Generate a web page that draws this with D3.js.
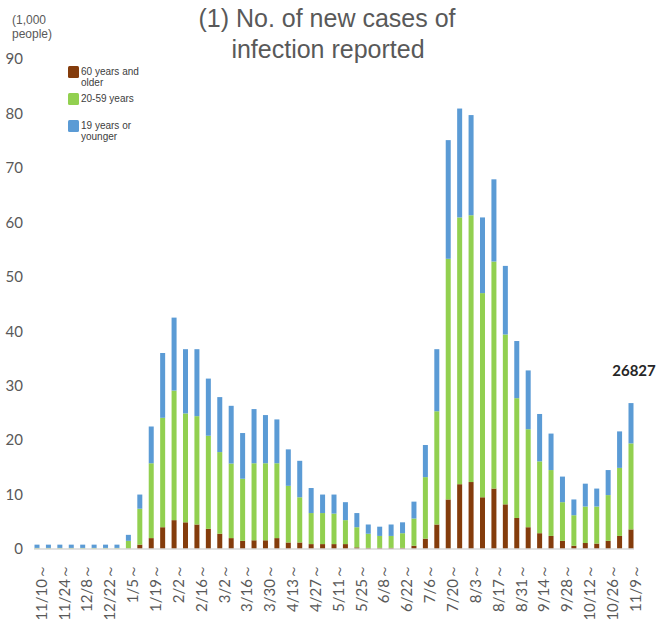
<!DOCTYPE html>
<html lang="en">
<head>
<meta charset="utf-8">
<title>No. of new cases of infection reported</title>
<script src="https://cdnjs.cloudflare.com/ajax/libs/d3/7.8.5/d3.min.js"></script>
<style>
  body { margin: 0; background: #fff; }
  svg { display: block; }
</style>
</head>
<body>
<div id="chart"></div>
<script>
// week start dates (categories)
const weeks = ["11/10","11/17","11/24","12/1","12/8","12/15","12/22","12/29",
  "1/5","1/12","1/19","1/26","2/2","2/9","2/16","2/23","3/2","3/9","3/16","3/23",
  "3/30","4/6","4/13","4/20","4/27","5/4","5/11","5/18","5/25","6/1","6/8","6/15",
  "6/22","6/29","7/6","7/13","7/20","7/27","8/3","8/10","8/17","8/24","8/31","9/7",
  "9/14","9/21","9/28","10/5","10/12","10/19","10/26","11/2","11/9"];

// thousands of people, per age group
const older = [0.05,0.05,0.05,0.05,0.05,0.05,0.05,0.05,
  0.1,0.8,2.0,4.0,5.3,4.9,4.5,3.7,2.8,2.0,1.5,1.6,
  1.6,2.0,1.2,1.2,0.9,0.9,0.9,0.9,0.3,0.2,0.2,0.2,
  0.2,0.6,1.9,4.5,9.1,11.9,12.3,9.5,11.1,8.2,5.7,4.0,
  2.9,2.4,1.5,0.6,1.1,1.0,1.5,2.4,3.6];
const middle = [0.15,0.15,0.15,0.15,0.15,0.15,0.15,0.15,
  1.4,6.6,13.75,20.1,23.8,20.0,19.9,17.1,15.0,13.7,11.4,14.15,
  14.15,13.75,10.4,8.3,5.7,5.7,5.6,4.4,3.7,2.6,2.2,2.2,
  2.7,5.0,11.3,20.8,44.2,49.0,49.0,37.5,41.7,31.2,22.0,18.0,
  13.2,12.1,7.1,5.6,6.7,6.8,8.4,12.5,15.8];
const young = [0.6,0.6,0.6,0.6,0.6,0.6,0.6,0.6,
  1.1,2.6,6.75,11.9,13.4,11.8,12.3,10.5,10.1,10.6,8.4,9.95,
  8.85,8.05,6.7,6.7,4.6,3.4,3.5,3.3,2.6,1.7,1.7,2.1,
  2.0,3.1,5.9,11.4,21.8,20.0,18.4,13.9,15.1,12.6,10.5,10.8,
  8.7,6.7,4.7,2.9,4.2,3.3,4.6,6.7,7.4];

const groups = ["older", "middle", "young"];
const groupNames = [["60 years and", "older"], ["20-59 years"], ["19 years or", "younger"]];
const colours = ["#843c0c", "#92d050", "#5b9bd5"];
const yTicks = [0,10,20,30,40,50,60,70,80,90];
const lastTotal = 26827;

const w = 658, h = 627;
const rows = weeks.map((wk, i) => ({week: wk, older: older[i], middle: middle[i], young: young[i]}));

const svg = d3.select("#chart").append("svg")
  .attr("width", w).attr("height", h);

const x = d3.scalePoint().domain(weeks).range([37, 631]);
const y = d3.scaleLinear().domain([0, 90]).range([549, 59]);
const barW = 5;

// bars
const stacked = d3.stack().keys(groups)(rows);
svg.append("g").selectAll("g")
  .data(stacked)
  .enter().append("g")
  .attr("fill", (d, i) => colours[i])
  .selectAll("rect")
  .data(d => d)
  .enter().append("rect")
  .attr("x", d => x(d.data.week) - barW / 2)
  .attr("y", d => y(d[1]))
  .attr("width", barW)
  .attr("height", d => Math.max(0, y(d[0]) - y(d[1])));

// baseline
svg.append("line")
  .attr("x1", x(weeks[0]) - 3).attr("x2", x(weeks[weeks.length - 1]) + 3)
  .attr("y1", y(0)).attr("y2", y(0))
  .attr("stroke", "#d9d9d9").attr("stroke-width", 1.5);

// y axis
const yAxis = svg.append("g")
  .attr("transform", "translate(23,0)")
  .call(d3.axisLeft(y).tickValues(yTicks).tickSize(0).tickPadding(0));
yAxis.select(".domain").remove();
yAxis.selectAll("text")
  .attr("font-family", "Lato, 'Open Sans', sans-serif")
  .attr("font-size", 15)
  .attr("fill", "#595959");

// x axis
const xAxis = svg.append("g")
  .attr("transform", "translate(0," + y(0) + ")")
  .call(d3.axisBottom(x)
    .tickValues(weeks.filter((d, i) => i % 2 === 0))
    .tickSize(0)
    .tickFormat(d => d + "～"));
xAxis.select(".domain").remove();
xAxis.selectAll("text")
  .attr("transform", "rotate(-90)")
  .attr("x", -15)
  .attr("y", 4)
  .attr("dy", "0.35em")
  .attr("text-anchor", "end")
  .attr("font-family", "Lato, 'Open Sans', sans-serif")
  .attr("font-size", 15)
  .attr("fill", "#595959");

// unit label
svg.append("text")
  .attr("x", 12).attr("y", 24)
  .attr("font-family", "'Liberation Sans', Arial, sans-serif")
  .attr("font-size", 12).attr("fill", "#595959")
  .text("(1,000");
svg.append("text")
  .attr("x", 12).attr("y", 38)
  .attr("font-family", "'Liberation Sans', Arial, sans-serif")
  .attr("font-size", 12).attr("fill", "#595959")
  .text("people)");

// title
const title = svg.append("text")
  .attr("text-anchor", "middle")
  .attr("font-family", "'Liberation Sans', Arial, sans-serif")
  .attr("font-size", 25)
  .attr("fill", "#595959");
title.append("tspan").attr("x", 327).attr("y", 27).text("(1) No. of new cases of");
title.append("tspan").attr("x", 328).attr("y", 58).text("infection reported");

// legend
const legendY = [66, 93, 120];
const legend = svg.append("g").selectAll("g")
  .data(groups)
  .enter().append("g")
  .attr("transform", (d, i) => "translate(68," + legendY[i] + ")");
legend.append("rect")
  .attr("width", 11).attr("height", 12).attr("rx", 1.5)
  .attr("fill", (d, i) => colours[i]);
legend.append("text")
  .attr("font-family", "'Liberation Sans', Arial, sans-serif")
  .attr("font-size", 10)
  .attr("fill", "#404040")
  .selectAll("tspan")
  .data((d, i) => groupNames[i])
  .enter().append("tspan")
  .attr("x", 13)
  .attr("y", (d, j) => 9 + j * 11)
  .text(d => d);

// value label on last bar
const lastRow = rows[rows.length - 1];
svg.append("text")
  .attr("x", x(lastRow.week) + 3)
  .attr("y", y(lastRow.older + lastRow.middle + lastRow.young) - 27)
  .attr("text-anchor", "middle")
  .attr("font-family", "Lato, 'Open Sans', sans-serif")
  .attr("font-size", 15)
  .attr("font-weight", "bold")
  .attr("fill", "#262626")
  .text(lastTotal);
</script>
</body>
</html>
